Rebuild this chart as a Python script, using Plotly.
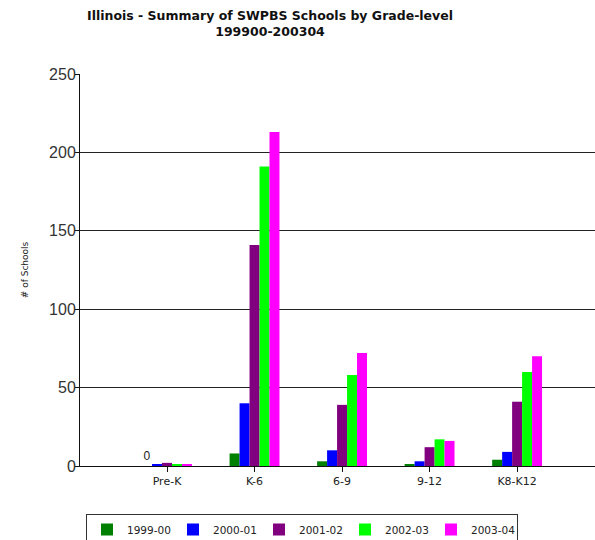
import plotly.graph_objects as go

categories = ["Pre-K", "K-6", "6-9", "9-12", "K8-K12"]
series_names = ["1999-00", "2000-01", "2001-02", "2002-03", "2003-04"]
values_1999_00 = [0, 8, 3, 1, 4]
values_2000_01 = [1, 40, 10, 3, 9]
values_2001_02 = [2, 141, 39, 12, 41]
values_2002_03 = [1, 191, 58, 17, 60]
values_2003_04 = [1, 213, 72, 16, 70]
series_values = [values_1999_00, values_2000_01, values_2001_02, values_2002_03, values_2003_04]
colors = ["#008000", "#0000FF", "#800080", "#00FF00", "#FF00FF"]
y_ticks = [0, 50, 100, 150, 200, 250]

fig = go.Figure()
for i, (name, vals, col) in enumerate(zip(series_names, series_values, colors)):
    kw = {}
    if i == 0:
        kw = dict(text=["0" if (v == 0 and j == 0) else "" for j, v in enumerate(vals)],
                  textposition="outside", cliponaxis=False,
                  textfont=dict(family="Liberation Sans, Arial, sans-serif", size=12, color="#222"))
    fig.add_trace(go.Bar(x=categories, y=vals, name=name, marker=dict(color=col, line=dict(width=0)), **kw))

fig.update_layout(
    width=595, height=540,
    paper_bgcolor="white", plot_bgcolor="white",
    margin=dict(l=80, r=0, t=74, b=74, autoexpand=False),
    barmode="group", bargap=0.43, bargroupgap=0,
    title=dict(
        text="Illinois - Summary of SWPBS Schools by Grade-level<br>199900-200304",
        x=270/595, xref="container", xanchor="center",
        y=1 - 19.5/540, yref="container", yanchor="middle",
        font=dict(family="DejaVu Sans, Verdana, sans-serif", size=12.5, color="#111", weight="bold"),
        automargin=False,
    ),
    xaxis=dict(
        type="category", range=[-0.994, 4.89],
        showgrid=False, showline=True, linecolor="#111", linewidth=1,
        ticks="outside", ticklen=5, tickcolor="#111",
        tickfont=dict(family="DejaVu Sans, Verdana, sans-serif", size=11, color="#222"),
        zeroline=False, automargin=False,
    ),
    yaxis=dict(
        range=[0, 250], tickvals=y_ticks,
        showgrid=True, gridcolor="#222", gridwidth=1,
        showline=True, linecolor="#111", linewidth=1,
        ticks="outside", ticklen=4, tickcolor="#111",
        ticklabelstandoff=-4,
        tickfont=dict(family="Liberation Sans, Arial, sans-serif", size=16, color="#333"),
        zeroline=False, automargin=False,
        title=dict(text="# of Schools", standoff=18,
                   font=dict(family="DejaVu Sans, Verdana, sans-serif", size=9, color="#222")),
    ),
    legend=dict(
        orientation="h", x=86/595, xref="container", xanchor="left",
        y=1 - 514/540, yref="container", yanchor="top",
        bordercolor="#333", borderwidth=1,
        font=dict(family="DejaVu Sans, Verdana, sans-serif", size=10.5, color="#222"),
        entrywidth=41, entrywidthmode="pixels",
        traceorder="normal", itemclick=False,
    ),
    showlegend=True,
)

fig.write_html("out.html", config={"displayModeBar": False},
               post_script="document.body.style.margin='0';")
